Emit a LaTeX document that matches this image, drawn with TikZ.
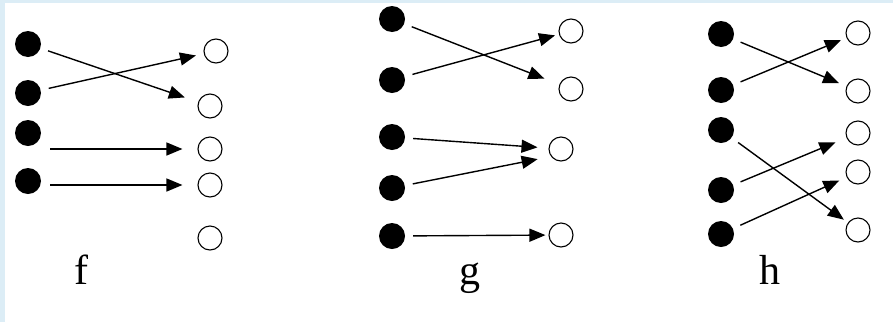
\documentclass[tikz,border=0pt]{standalone}
\usepackage{fontspec}
\setmainfont{Liberation Serif}
\usetikzlibrary{arrows.meta}
\definecolor{framebg}{HTML}{DCEDF6}

\begin{document}
\begin{tikzpicture}[x=1pt, y=-1pt,
	dot/.style={circle, fill=black, inner sep=0pt, minimum size=26pt},
	hole/.style={circle, draw=black, line width=1.1pt, fill=white, inner sep=0pt, minimum size=24pt},
	arr/.style={-{Triangle[length=16pt,width=13pt]}, line width=1.4pt, shorten <=8pt, shorten >=6pt},
	lbl/.style={anchor=base, font=\fontsize{42}{48}\selectfont}]
	%%%%% START %%%%%
	
	\useasboundingbox (0,0) rectangle (893,322);
	\fill[white] (0,0) rectangle (893,322);
	\fill[framebg] (0,0) rectangle (893,3);
	\fill[framebg] (0,0) rectangle (5,322);
	
	% f
	\node[dot] (f1) at (28,44) {};
	\node[dot] (f2) at (28,93) {};
	\node[dot] (f3) at (28,133) {};
	\node[dot] (f4) at (28,181) {};
	\node[hole] (fa) at (216,51) {};
	\node[hole] (fb) at (210,106) {};
	\node[hole] (fc) at (210,149) {};
	\node[hole] (fd) at (210,185) {};
	\node[hole] (fe) at (210,238) {};
	\draw[arr, shorten >=14pt] (f1) -- (fb);
	\draw[arr, shorten >=8pt] (f2) -- (fa);
	\draw[arr, shorten >=15pt, shorten <=9pt] (fc -| f3.east) -- (fc);
	\draw[arr, shorten >=15pt, shorten <=9pt] (fd -| f4.east) -- (fd);
	\node[lbl] (flabel) at (81,284) {f};
	
	% g
	\node[dot] (g1) at (392,19) {};
	\node[dot] (g2) at (392,80) {};
	\node[dot] (g3) at (392,137) {};
	\node[dot] (g4) at (392,188) {};
	\node[dot] (g5) at (392,236) {};
	\node[hole] (ga) at (571,31) {};
	\node[hole] (gb) at (571,89) {};
	\node[hole] (gc) at (561,149) {};
	\node[hole] (gd) at (561,235) {};
	\draw[arr, shorten >=16pt] (g1) -- (gb);
	\draw[arr, shorten >=4pt] (g2) -- (ga);
	\draw[arr, shorten >=11pt] (g3) -- (gc);
	\draw[arr, shorten >=11pt] (g4) -- ([yshift=-8pt]gc.west);
	\draw[arr, shorten >=3pt] (g5) -- (gd);
	\node[lbl] (glabel) at (470,284) {g};
	
	% h
	\node[dot] (h1) at (721,34) {};
	\node[dot] (h2) at (721,90) {};
	\node[dot] (h3) at (721,130) {};
	\node[dot] (h4) at (721,190) {};
	\node[dot] (h5) at (721,234) {};
	\node[hole] (ha) at (858,33) {};
	\node[hole] (hb) at (858,91) {};
	\node[hole] (hc) at (858,133) {};
	\node[hole] (hd) at (858,172) {};
	\node[hole] (he) at (858,230) {};
	\draw[arr, shorten >=8pt] (h1) -- (hb);
	\draw[arr, shorten >=6pt] (h2) -- (ha);
	\draw[arr, shorten >=5pt] (h3) -- (he);
	\draw[arr, shorten >=12pt] (h4) -- (hc);
	\draw[arr, shorten >=8pt] (h5) -- (hd);
	\node[lbl] (hlabel) at (770,284) {h};
	
	%%%%% END %%%%%
\end{tikzpicture}
\end{document}
